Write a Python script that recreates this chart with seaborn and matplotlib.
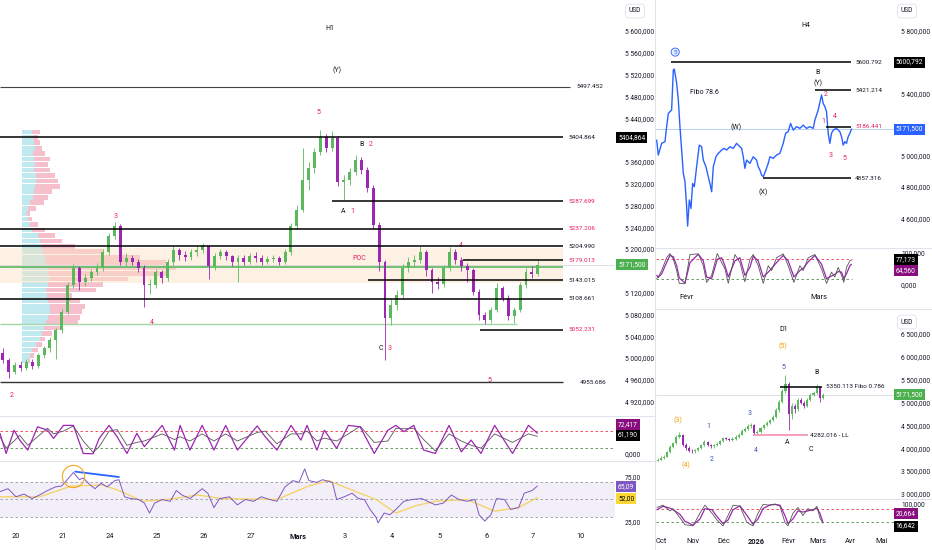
import numpy as np
import seaborn as sns
import matplotlib.pyplot as plt
from matplotlib.lines import Line2D

sns.set_theme(style="white")
plt.rcParams['font.family'] = ['Roboto', 'DejaVu Sans']

W, H = 932, 550
UP = '#5cb85c'
DOWN = '#9c27b0'
TXT = '#131722'
RED = '#e91e63'

# ---------------- H1 : 8 bars per session ----------------
h1_first_open = 5010
h1_close = [4996, 4974, 4987, 4982, 4993, 4985, 5005, 5018, 5033, 5051,
            5084, 5134, 5165, 5139, 5147, 5158, 5165, 5194, 5224, 5242,
            5176, 5183, 5176, 5165, 5134, 5134, 5158, 5147, 5176, 5198,
            5189, 5185, 5194, 5198, 5205, 5169, 5187, 5194, 5187, 5176,
            5183, 5176, 5187, 5183, 5176, 5182, 5183, 5176, 5194, 5242,
            5272, 5327, 5349, 5378, 5406, 5385, 5404, 5323, 5326, 5341,
            5363, 5345, 5312, 5244, 5176, 5073, 5097, 5116, 5165, 5176,
            5180, 5194, 5161, 5139, 5136, 5165, 5194, 5180, 5169, 5161,
            5121, 5079, 5070, 5088, 5128, 5110, 5077, 5088, 5134, 5158,
            5154, 5171.5]
h1_high = [5018, 5000, 4992, 4995, 4998, 4999, 5010, 5022, 5038, 5055,
           5090, 5140, 5172, 5168, 5155, 5164, 5175, 5200, 5230, 5250,
           5246, 5192, 5190, 5182, 5170, 5145, 5164, 5162, 5182, 5206,
           5202, 5196, 5200, 5205, 5212, 5208, 5193, 5200, 5198, 5190,
           5190, 5189, 5192, 5194, 5190, 5188, 5190, 5188, 5200, 5248,
           5280, 5385, 5360, 5385, 5418, 5412, 5416, 5408, 5335, 5348,
           5372, 5368, 5350, 5318, 5250, 5180, 5108, 5124, 5172, 5185,
           5190, 5206, 5198, 5166, 5148, 5170, 5204, 5200, 5186, 5175,
           5166, 5126, 5084, 5094, 5137, 5132, 5115, 5094, 5140, 5165,
           5168, 5180]
h1_low = [4990, 4963, 4970, 4976, 4978, 4980, 4982, 5000, 5012, 4998,
          5046, 5080, 5128, 5125, 5133, 5142, 5152, 5160, 5190, 5218,
          5170, 5168, 5170, 5158, 5094, 5118, 5128, 5138, 5142, 5170,
          5180, 5178, 5180, 5188, 5192, 5145, 5162, 5182, 5180, 5168,
          5140, 5170, 5172, 5176, 5170, 5172, 5176, 5170, 5172, 5190,
          5236, 5268, 5308, 5340, 5372, 5378, 5380, 5315, 5290, 5318,
          5336, 5338, 5305, 5236, 5160, 4996, 5060, 5088, 5110, 5158,
          5168, 5174, 5150, 5120, 5126, 5130, 5160, 5172, 5160, 5140,
          5115, 5070, 5062, 5064, 5084, 5104, 5070, 5064, 5084, 5128,
          5146, 5150]
h1_day_labels = ['20', '21', '24', '25', '26', '27', 'Mars', '3', '4', '5', '6', '7', '10']

# volume profile (price row, up volume, down volume)
vp_price = [5415, 5405, 5395, 5385, 5375, 5365, 5355, 5345, 5335, 5325,
            5315, 5305, 5295, 5285, 5275, 5265, 5255, 5245, 5235, 5225,
            5215, 5205, 5195, 5185, 5175, 5165, 5155, 5145, 5135, 5125,
            5115, 5105, 5095, 5085, 5075, 5065, 5055, 5045, 5035, 5025,
            5015, 5005, 4995]
vp_up = [10, 11, 12, 13, 11, 12, 13, 12, 14, 14,
         13, 12, 11, 8, 6, 5, 6, 8, 10, 16,
         18, 20, 21, 23, 24, 26, 26, 28, 26, 24,
         25, 26, 28, 28, 26, 24, 22, 20, 18, 14,
         10, 8, 6]
vp_down = [8, 5, 6, 7, 12, 16, 13, 16, 19, 22,
           25, 18, 15, 14, 8, 3, 4, 8, 13, 17,
           22, 33, 60, 95, 120, 128, 120, 78, 55, 50,
           25, 32, 35, 32, 32, 32, 16, 10, 5, 6,
           6, 4, 2]

# key levels
h1_levels = [5497.452, 5404.864, 5287.699, 5237.206, 5204.990,
             5179.013, 5143.015, 5108.661, 5052.231, 4955.686]
h1_level_start = [-0.34, -0.34, 6.72, -0.34, -0.34, 9.51, 7.49, -0.34, 9.87, -0.34]
h1_level_red = [False, False, True, True, False, True, False, False, True, False]

# stochastic H1
h1_st_days = [-0.34, -0.21, -0.04, 0.08, 0.25, 0.46, 0.67, 0.80, 1.01, 1.22,
              1.43, 1.64, 1.77, 1.98, 2.15, 2.36, 2.57, 2.73, 3.11, 3.37,
              3.49, 3.70, 3.96, 4.21, 4.46, 4.71, 5.13, 5.30, 5.55, 5.85,
              6.06, 6.19, 6.40, 6.56, 6.82, 7.07, 7.32, 7.62, 7.91, 8.08,
              8.25, 8.46, 8.67, 8.92, 9.21, 9.47, 9.68, 9.89, 10.18, 10.56,
              10.90, 11.09]
h1_st_k = [72, 1, 83, 48, 13, 95, 83, 54, 100, 100,
           1, 0, 54, 100, 60, 1, 72, 25, 100, 13,
           100, 13, 100, 13, 100, 13, 98, 60, 13, 100,
           48, 100, 13, 83, 19, 100, 95, 1, 83, 100,
           78, 100, 13, 1, 100, 7, 48, 1, 100, 1,
           100, 72.4]
h1_st_d = [60, 20, 45, 65, 30, 60, 90, 70, 80, 98,
           45, 5, 25, 80, 85, 30, 40, 45, 70, 50,
           60, 45, 70, 45, 70, 45, 75, 80, 35, 70,
           70, 80, 45, 55, 45, 70, 97, 40, 45, 90,
           88, 90, 50, 10, 70, 45, 30, 20, 70, 40,
           70, 61.2]

# RSI H1
rsi_days = [-0.34, -0.17, 0.00, 0.17, 0.34, 0.50, 0.67, 0.84, 0.97, 1.09, 1.22,
            1.35, 1.43, 1.56, 1.68, 1.81, 1.94, 2.10, 2.19, 2.31, 2.44,
            2.61, 2.73, 2.84, 2.95, 3.11, 3.28, 3.41, 3.53, 3.70, 3.96,
            4.08, 4.21, 4.33, 4.54, 4.71, 4.88, 5.05, 5.22, 5.39, 5.55,
            5.72, 5.89, 6.02, 6.14, 6.23, 6.40, 6.52, 6.73, 6.82, 6.98,
            7.15, 7.28, 7.41, 7.53, 7.66, 7.70, 7.83, 7.95, 8.08, 8.25,
            8.42, 8.63, 8.75, 8.92, 9.09, 9.26, 9.42, 9.59, 9.76, 9.85,
            9.97, 10.10, 10.22, 10.39, 10.52, 10.69, 10.81, 10.98, 11.09]
rsi_vals = [58.7, 62, 53, 56, 51, 55, 60, 64, 65, 72, 80,
            72, 74, 67, 62, 68, 64, 71, 72, 53, 51,
            50, 46, 35, 46, 50, 48, 60, 55, 51, 62,
            57, 41, 51, 53, 44, 50, 48, 53, 50, 48,
            64, 71, 69, 84, 71, 69, 72, 69, 50, 53,
            57, 51, 50, 39, 30, 24, 35, 33, 39, 48,
            50, 51, 48, 44, 46, 55, 50, 48, 50, 33,
            26, 33, 51, 50, 39, 41, 57, 60, 65.09]
rsi_ma_days = [-0.34, 0.50, 1.18, 1.85, 2.19, 2.69, 3.20, 3.87, 4.38, 5.55,
               6.23, 6.65, 7.07, 7.66, 8.08, 8.50, 8.92, 9.59, 10.18, 10.69, 11.09]
rsi_ma_vals = [53, 53, 65, 66, 60, 48, 50, 55, 51, 50,
               65, 71, 62, 50, 35, 43, 48, 50, 37, 41, 52]

# ---------------- H4 (days from 1 Feb) ----------------
h4_days = [-6.44, -6.09, -5.38, -4.67, -4.32, -3.96, -3.26, -2.90, -2.69, -2.19,
           -1.84, -1.49, -1.13, -0.78, -0.42, -0.07, 0.14, 0.50, 0.85, 1.20,
           1.56, 2.05, 2.62, 3.11, 3.47, 4.03, 4.53, 4.88, 5.24, 5.59,
           6.16, 6.65, 7.01, 7.36, 7.86, 8.42, 9.13, 9.84, 10.54, 11.25,
           11.61, 11.96, 12.31, 12.67, 13.38, 14.08, 14.79, 15.14, 15.50, 15.85,
           16.21, 16.77, 17.27, 17.62, 18.33, 19.04, 19.75, 20.45, 20.95, 21.51,
           22.01, 22.58, 23.28, 23.99, 24.70, 25.41, 26.11, 26.82, 27.18, 27.88,
           28.59, 28.95, 29.30, 29.65, 30.01, 30.36, 30.71, 31.07, 31.78, 32.48,
           32.84, 33.19, 33.55, 33.90, 34.25, 34.61, 34.96]
h4_price = [5101, 5005, 5080, 5091, 5187, 5272, 5294, 5550, 5556, 5465,
            5358, 5187, 5037, 4888, 4834, 4674, 4550, 4717, 4663, 4823,
            4802, 4930, 5069, 5058, 4973, 4930, 4866, 4823, 4770, 4930,
            4994, 5016, 5026, 5037, 5048, 5037, 5058, 5048, 5080, 5058,
            5048, 4994, 4920, 4973, 4952, 4994, 4973, 4930, 4909, 4877,
            4866, 4909, 4952, 4994, 4984, 5005, 5016, 5080, 5144, 5155,
            5208, 5165, 5187, 5176, 5197, 5176, 5187, 5176, 5229, 5294,
            5390, 5336, 5315, 5283, 5144, 5080, 5144, 5165, 5176, 5155,
            5123, 5069, 5091, 5080, 5123, 5144, 5171.5]
h4_levels = [5600.792, 5421.214, 5186.441, 4857.316]
h4_level_start = [-3.4, 27.2, 29.5, 16.1]
h4_level_red = [False, False, True, False]

h4_st_days = [-6.44, -6.09, -5.38, -4.32, -3.61, -2.90, -2.19, -1.63, -0.42, 0.64,
              2.41, 3.47, 4.18, 5.24, 6.44, 7.36, 8.07, 8.78, 10.19, 11.25,
              12.31, 13.38, 14.08, 15.14, 16.21, 17.27, 17.98, 19.04, 20.45, 21.51,
              22.72, 23.99, 24.70, 25.76, 27.18, 28.59, 29.65, 30.71, 31.42, 32.13,
              32.84, 33.33, 33.90, 34.61, 34.96]
h4_st_k = [20, 25, 45, 85, 98, 80, 45, 5, 4, 95,
           97, 60, 8, 30, 98, 70, 50, 5, 95, 70,
           10, 80, 95, 60, 5, 60, 45, 85, 97, 60,
           8, 60, 45, 85, 95, 50, 5, 40, 25, 55,
           30, 8, 55, 75, 77.173]
h4_st_d = [30, 24, 35, 70, 92, 88, 60, 22, 6, 70,
           96, 75, 25, 20, 80, 85, 60, 25, 75, 85,
           30, 55, 90, 75, 25, 40, 52, 70, 92, 75,
           25, 45, 52, 72, 92, 65, 20, 28, 33, 42,
           40, 20, 35, 60, 64.56]

# ---------------- D1 (days from 1 Oct, 3-day bars) ----------------
d1_first_open = 3730
d1_close = [3750, 3790, 3815, 3920, 4020, 4108, 4250, 4290, 4080, 4010,
            3950, 3930, 3960, 4000, 4060, 4140, 4075, 4040, 4060, 4100,
            4150, 4215, 4200, 4180, 4210, 4250, 4300, 4380, 4420, 4480,
            4500, 4330, 4360, 4440, 4500, 4560, 4610, 4680, 4830, 5020,
            5250, 5400, 4750, 4930, 4850, 5050, 5000, 4920, 5060, 5170,
            5210, 5330, 5100, 5171.5]
d1_high = [3790, 3820, 3850, 3950, 4060, 4140, 4290, 4360, 4310, 4110,
           4040, 3980, 3990, 4030, 4090, 4180, 4160, 4100, 4090, 4130,
           4180, 4250, 4240, 4220, 4240, 4280, 4330, 4410, 4460, 4520,
           4550, 4520, 4400, 4470, 4530, 4590, 4650, 4720, 4870, 5060,
           5300, 5600, 5450, 4990, 4960, 5090, 5100, 5030, 5100, 5210,
           5250, 5400, 5350, 5200]
d1_low = [3710, 3735, 3770, 3800, 3900, 4000, 4090, 4220, 4040, 3970,
          3910, 3890, 3900, 3940, 3980, 4040, 4040, 4010, 4010, 4040,
          4080, 4130, 4170, 4150, 4160, 4190, 4230, 4280, 4350, 4400,
          4450, 4290, 4300, 4340, 4420, 4480, 4540, 4590, 4660, 4800,
          5000, 5200, 4400, 4650, 4780, 4820, 4960, 4870, 4900, 5040,
          5140, 5190, 5020, 5080]
d1_month_days = [0, 31, 61, 92, 123, 151, 182, 212]
d1_month_labels = ['Oct', 'Nov', 'Déc', '2026', 'Févr', 'Mars', 'Avr', 'Mai']

d1_st_days = [-3.7, 2.1, 8.9, 11.7, 18.5, 23.3, 31.0, 37.7, 42.5, 49.3,
              54.1, 59.9, 64.7, 69.5, 76.2, 82.9, 88.7, 93.6, 98.4, 105.1,
              109.9, 114.7, 119.5, 122.4, 127.2, 132.0, 136.8, 141.6, 146.4, 150.3,
              153.1, 156.0]
d1_st_k = [85, 95, 70, 80, 40, 10, 5, 60, 95, 60,
           30, 5, 50, 95, 90, 20, 5, 60, 98, 95,
           100, 90, 20, 5, 60, 85, 50, 80, 70, 90,
           40, 16.642]
d1_st_d = [75, 90, 82, 75, 55, 25, 8, 35, 80, 75,
           45, 15, 30, 75, 92, 50, 12, 35, 80, 96,
           98, 95, 50, 15, 35, 70, 65, 70, 75, 82,
           60, 20.664]


def price_fmt(v, dec=3):
    s = f"{v:,.{dec}f}"
    return s.replace(",", " ").replace(".", ",")


def tag_fmt(v, dec=3):
    return f"{v:.{dec}f}".replace(".", ",")


fig = plt.figure(figsize=(W / 100, H / 100), dpi=100)
fig.patch.set_facecolor('white')


def px_axes(x0, y0, x1, y1):
    ax = fig.add_axes([x0 / W, 1 - y1 / H, (x1 - x0) / W, (y1 - y0) / H])
    ax.set_facecolor('none')
    for s in ax.spines.values():
        s.set_visible(False)
    ax.tick_params(length=0, labelsize=4.8, colors=TXT)
    ax.grid(False)
    ax.set_xticks([])
    ax.set_yticks([])
    return ax


def candles(ax, x, o, h, l, c, width):
    o, h, l, c = map(np.asarray, (o, h, l, c))
    col = np.where(c >= o, UP, DOWN)
    ax.vlines(x, l, h, colors=col, linewidth=0.6, zorder=3)
    ax.bar(x, np.maximum(np.abs(c - o), 1.0), bottom=np.minimum(o, c), width=width,
           color=col, linewidth=0, zorder=4)


def tag(ax, y, text, fc, tc='white', x=1.005):
    ax.text(x, y, text, transform=ax.get_yaxis_transform(), fontsize=4.8, color=tc,
            va='center', ha='left', clip_on=False, zorder=20,
            bbox=dict(boxstyle='square,pad=0.3', fc=fc, ec='none'))


def right_ticks(ax, ticks, dec, pad):
    ax.yaxis.tick_right()
    ax.set_yticks(ticks)
    ax.set_yticklabels([price_fmt(t, dec) for t in ticks])
    ax.tick_params(axis='y', pad=pad, labelsize=4.8, colors=TXT)


def line(ax, x, y, color, lw, ls='-'):
    sns.lineplot(x=x, y=y, ax=ax, color=color, linewidth=lw, linestyle=ls,
                 sort=False, estimator=None)
    ax.set_xlabel('')
    ax.set_ylabel('')


def note(ax, x, y, s, color=TXT, size=5, **kw):
    ax.text(x, y, s, color=color, fontsize=size, ha='center', va='center', **kw)


# ================= H1 =================
H1_X = (-0.34, 12.74)
H1_Y = (4901, 5657)

vp_ax = px_axes(22, 0, 615, 412)
vp_ax.barh(vp_price, vp_up, height=8.6, color='#bfe9ef', linewidth=0)
vp_ax.barh(vp_price, vp_down, left=vp_up, height=8.6, color='#f6bfcc', linewidth=0)
vp_ax.set_xlim(0, 593)
vp_ax.set_ylim(*H1_Y)
vp_ax.axis('off')

ax1 = px_axes(0, 0, 615, 412)
ax1.set_xlim(*H1_X)
ax1.set_ylim(*H1_Y)
ax1.fill_between([-0.34, 11.64], 5138, 5202, color='#fbe2c2', alpha=0.45, lw=0, zorder=0)

h1_open = [h1_first_open] + h1_close[:-1]
h1_x = H1_X[0] + (np.arange(len(h1_close)) + 0.5) / 8
candles(ax1, h1_x, h1_open, h1_high, h1_low, h1_close, 0.062)

ax1.hlines(5167, -0.34, 11.64, color='#66bb6a', lw=1.3, zorder=2)
ax1.hlines(5062, -0.34, 10.66, color='#a5d6a7', lw=1.0, zorder=2)
ax1.axhline(5171.5, color='#d0d3da', lw=0.5, zorder=1)
for lvl, st, red in zip(h1_levels, h1_level_start, h1_level_red):
    if lvl == 5497.452:
        ax1.hlines(lvl, st, 11.78, color='#444444', lw=0.8, zorder=5)
        ax1.text(11.92, lvl, f"{lvl:.3f}", fontsize=4.6, va='center', color=TXT)
    elif lvl == 4955.686:
        ax1.hlines(lvl, st, 11.64, color='#333333', lw=1.0, zorder=5)
        ax1.text(12.0, lvl, f"{lvl:.3f}", fontsize=4.6, va='center', color=TXT)
    else:
        ax1.hlines(lvl, st, 11.64, color='black', lw=1.1, zorder=5)
        ax1.text(11.74, lvl, f"{lvl:.3f}", fontsize=4.6, va='center',
                 color=RED if red else TXT)

note(ax1, 6.68, 5605, 'H1')
note(ax1, 6.83, 5528, '(Y)')
note(ax1, 6.43, 5451, '5', RED)
note(ax1, 7.34, 5391, 'B')
note(ax1, 7.55, 5391, '2', RED)
note(ax1, 6.96, 5268, 'A')
note(ax1, 7.15, 5268, '1', RED)
note(ax1, 2.13, 5259, '3', RED)
note(ax1, 9.47, 5207, '4', RED)
note(ax1, 7.30, 5183, 'POC', RED)
note(ax1, 2.89, 5066, '4', RED)
note(ax1, 7.77, 5017, 'C')
note(ax1, 7.94, 5017, '3', RED)
note(ax1, 10.06, 4958, '5', RED)
note(ax1, -0.09, 4932, '2', RED)

h1_ticks = [t for t in range(4920, 5601, 40) if t not in (5400, 5160)]
right_ticks(ax1, h1_ticks, 3, 7.2)
tag(ax1, 5404.864, tag_fmt(5404.864), 'black')
tag(ax1, 5171.5, tag_fmt(5171.5), '#4caf50')

# stochastic H1
ax2 = px_axes(0, 418, 615, 460)
ax2.set_xlim(*H1_X)
ax2.set_ylim(-22, 126)
ax2.axhline(80, color='#f23645', lw=0.6, ls=(0, (3, 3)))
ax2.axhline(20, color='#4c8c4a', lw=0.6, ls=(0, (3, 3)))
line(ax2, h1_st_days, h1_st_d, '#555555', 0.6)
line(ax2, h1_st_days, h1_st_k, '#9c27b0', 0.9)
right_ticks(ax2, [0], 3, 7.2)
tag(ax2, 104, tag_fmt(72.417), '#880e7f')
tag(ax2, 66, tag_fmt(61.19), 'black')

# RSI H1
ax3 = px_axes(0, 462, 615, 528)
ax3.set_xlim(*H1_X)
ax3.set_ylim(18.3, 91.7)
ax3.axhspan(30, 70, color='#7e57c2', alpha=0.09, lw=0)
for lv in (70, 50, 30):
    ax3.axhline(lv, color='#9598a1', lw=0.6, ls=(0, (3, 3)))
line(ax3, rsi_ma_days, rsi_ma_vals, '#f4d46a', 1.0)
line(ax3, rsi_days, rsi_vals, '#7e57c2', 0.7)
line(ax3, [1.26, 2.19], [81, 75], '#2962ff', 1.3)
ax3.plot([1.22], [76], marker='o', ms=16, mfc='none', mec='#f5a623', mew=0.8)
right_ticks(ax3, [25, 75], 2, 7.2)
tag(ax3, 64, '65,09', '#7e57c2')
tag(ax3, 51, '52,00', '#fdd835', tc='black')
ax3.set_xticks(range(len(h1_day_labels)))
ax3.set_xticklabels(h1_day_labels)
ax3.tick_params(axis='x', pad=3.5, labelsize=5.3, colors=TXT)
for t in ax3.get_xticklabels():
    if t.get_text() == 'Mars':
        t.set_fontweight('bold')

# ================= H4 =================
H4_X = (-6.58, 44.2)
ax4 = px_axes(656, 0, 895, 246)
ax4.set_xlim(*H4_X)
ax4.set_ylim(4422, 5999)
ax4.axhline(5171.5, color='#a9c7f7', lw=0.6, zorder=1)
line(ax4, h4_days, h4_price, '#2962ff', 1.0)
for lvl, st, red in zip(h4_levels, h4_level_start, h4_level_red):
    ax4.hlines(lvl, st, 34.8, color='black', lw=1.1, zorder=5)
    ax4.text(35.7, lvl, f"{lvl:.3f}", fontsize=4.6, va='center', color=RED if red else TXT)
note(ax4, 25.3, 5838, 'H4')
ax4.text(-2.5, 5665, '5', fontsize=4.5, color='#2962ff', ha='center', va='center',
         bbox=dict(boxstyle='circle,pad=0.25', fc='#e3ecff', ec='#2962ff', lw=0.6))
note(ax4, 3.8, 5409, 'Fibo 78.6')
note(ax4, 10.4, 5185, '(W)')
note(ax4, 27.8, 5537, 'B')
note(ax4, 27.8, 5467, '(Y)')
note(ax4, 29.5, 5396, '2', RED)
note(ax4, 28.9, 5223, '1', RED)
note(ax4, 31.4, 5255, '4', RED)
note(ax4, 30.6, 5005, '3', RED)
note(ax4, 33.5, 4986, '5', RED)
note(ax4, 16.1, 4768, '(X)')
right_ticks(ax4, [4600, 4800, 5000, 5400, 5800], 3, 4.3)
tag(ax4, 5600.792, tag_fmt(5600.792), 'black', x=1.003)
tag(ax4, 5171.5, tag_fmt(5171.5), '#2962ff', x=1.003)

ax5 = px_axes(656, 250, 895, 290)
ax5.set_xlim(*H4_X)
ax5.set_ylim(-15.6, 109)
ax5.hlines(80, H4_X[0], 35, color='#f23645', lw=0.6, ls=(0, (3, 3)))
ax5.hlines(20, H4_X[0], 35, color='#4c8c4a', lw=0.6, ls=(0, (3, 3)))
line(ax5, h4_st_days, h4_st_d, '#9c27b0', 0.9)
line(ax5, h4_st_days, h4_st_k, '#555555', 0.6)
right_ticks(ax5, [0, 100], 3, 4.3)
tag(ax5, 78, tag_fmt(77.173), 'black', x=1.003)
tag(ax5, 46, tag_fmt(64.56), '#880e7f', x=1.003)
ax5.set_xticks([0, 28])
ax5.set_xticklabels(['Févr', 'Mars'])
ax5.tick_params(axis='x', pad=3, labelsize=5.3, colors=TXT)

# ================= D1 =================
D1_X = (-4.6, 225.4)
ax6 = px_axes(656, 312, 895, 498)
ax6.set_xlim(*D1_X)
ax6.set_ylim(2911, 6981)
ax6.axhline(5171.5, color='#d0d3da', lw=0.5, zorder=1)
d1_open = [d1_first_open] + d1_close[:-1]
d1_x = np.arange(len(d1_close)) * 3 - 3
candles(ax6, d1_x, d1_open, d1_high, d1_low, d1_close, 2.0)
ax6.hlines(5350.113, 114.6, 155.2, color='black', lw=1.1, zorder=5)
ax6.text(158.9, 5350, '5350.113 Fibo 0.786', fontsize=4.6, va='center', ha='left', color=TXT)
ax6.hlines(4282.016, 88.4, 141.7, color='#f48fb1', lw=1.2, zorder=5)
ax6.text(143.6, 4282, '4282.016 - LL', fontsize=4.6, va='center', ha='left', color=TXT)
note(ax6, 118.6, 6609, 'D1')
note(ax6, 117.6, 6216, '(5)', '#f59e0b')
note(ax6, 117.6, 5756, '5', '#3f51b5')
note(ax6, 150.3, 5647, 'B')
note(ax6, 16.6, 4618, '(3)', '#f59e0b')
note(ax6, 45.5, 4465, '1', '#3f51b5')
note(ax6, 85.9, 4750, '3', '#3f51b5')
note(ax6, 121.5, 4115, 'A')
note(ax6, 91.6, 3940, '4', '#3f51b5')
note(ax6, 144.6, 3962, 'C')
note(ax6, 49.3, 3743, '2', '#3f51b5')
note(ax6, 24.3, 3633, '(4)', '#f59e0b')
right_ticks(ax6, list(range(3000, 6501, 500)), 3, 4.3)
tag(ax6, 5171.5, tag_fmt(5171.5), '#4caf50', x=1.003)

ax7 = px_axes(656, 500, 895, 532)
ax7.set_xlim(*D1_X)
ax7.set_ylim(-21.7, 117.4)
ax7.axhline(80, color='#f23645', lw=0.6, ls=(0, (3, 3)))
ax7.axhline(20, color='#4c8c4a', lw=0.6, ls=(0, (3, 3)))
line(ax7, d1_st_days, d1_st_d, '#9c27b0', 0.9)
line(ax7, d1_st_days, d1_st_k, '#555555', 0.6)
right_ticks(ax7, [100], 3, 4.3)
tag(ax7, 60, tag_fmt(20.664), '#880e7f', x=1.003)
tag(ax7, 4, tag_fmt(16.642), 'black', x=1.003)
ax7.set_xticks(d1_month_days)
ax7.set_xticklabels(d1_month_labels)
ax7.tick_params(axis='x', pad=4, labelsize=5.3, colors=TXT)
for t in ax7.get_xticklabels():
    if t.get_text() == '2026':
        t.set_fontweight('bold')

# ---- panel separators and currency boxes ----
sep = '#e0e3eb'
def fig_line(x0, y0, x1, y1):
    fig.add_artist(Line2D([x0 / W, x1 / W], [1 - y0 / H, 1 - y1 / H], color=sep, lw=0.8))

fig_line(655, 0, 655, 550)
fig_line(0, 416, 655, 416)
fig_line(0, 461, 655, 461)
fig_line(656, 248, 932, 248)
fig_line(656, 309, 932, 309)
fig_line(656, 499, 932, 499)

for xp, yp in [(635, 11), (907, 11), (907, 322)]:
    fig.text(xp / W, 1 - yp / H, 'USD', fontsize=4.8, color=TXT, ha='center', va='center',
             bbox=dict(boxstyle='round,pad=0.5', fc='white', ec='#e0e3eb', lw=0.6))

fig.savefig('out.png', dpi=100, facecolor='white')
